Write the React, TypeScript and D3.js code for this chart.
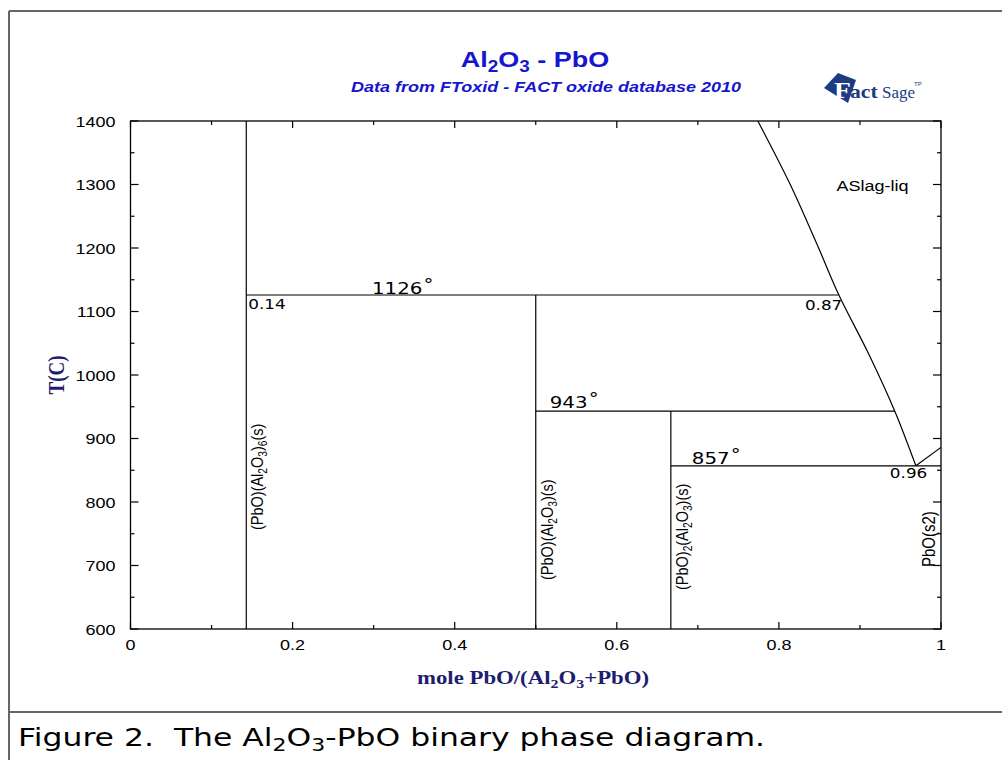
import React from "react";
import * as d3 from "d3";

const WIDTH = 1002;
const HEIGHT = 760;
const PLOT = { left: 130.5, right: 941, top: 121, bottom: 629 };
// the source picture is widened horizontally, so text is widened too
const STRETCH = 1.2;

const X_MAJOR = [0, 0.2, 0.4, 0.6, 0.8, 1];
const X_MAJOR_LABELS = ["0", "0.2", "0.4", "0.6", "0.8", "1"];
const X_MINOR = [0.1, 0.3, 0.5, 0.7, 0.9];
const Y_MAJOR = [600, 700, 800, 900, 1000, 1100, 1200, 1300, 1400];
const Y_MAJOR_LABELS = ["600", "700", "800", "900", "1000", "1100", "1200", "1300", "1400"];
const Y_MINOR = [650, 750, 850, 950, 1050, 1150, 1250, 1350];

// stoichiometric compounds: composition and upper temperature
const COMPOUND_X = [1 / 7, 0.5, 2 / 3];
const COMPOUND_TOP = [1400, 1126, 943];

// invariant lines
const INV_T = [1126, 943, 857];
const INV_FROM = [1 / 7, 0.5, 2 / 3];
const INV_TO = [0.874, 0.943, 1];
const INV_LABELS = ["1126", "943", "857"];

// liquidus (Al2O3-rich side down to the eutectic)
const LIQ_X = [0.774, 0.814, 0.849, 0.874, 0.912, 0.943, 0.969];
const LIQ_T = [1400, 1300, 1200, 1126, 1030, 943, 857];
// liquidus on the PbO side
const PBO_LIQ_X = [0.969, 1];
const PBO_LIQ_T = [857, 886];

const X_SCALE = d3.scaleLinear().domain([0, 1]).range([PLOT.left, PLOT.right]);
const Y_SCALE = d3.scaleLinear().domain([600, 1400]).range([PLOT.bottom, PLOT.top]);

const liqLine = d3
  .line<[number, number]>()
  .x((d) => X_SCALE(d[0]))
  .y((d) => Y_SCALE(d[1]))
  .curve(d3.curveCatmullRom);

const BLUE = "#1616cc";
const NAVY = "#1e1e6e";
const LOGO = "#1c3b82";
const SANS = "'Liberation Sans', Arial, sans-serif";
const SERIF = "'Liberation Serif', 'Times New Roman', serif";
const DEJAVU = "'DejaVu Sans', sans-serif";

// "_x" parts are subscripts
function Rich({ parts, size }: any) {
  const shift = size * 0.22;
  return parts.map((p: string, i: number) => {
    const prevSub = i > 0 && parts[i - 1].startsWith("_");
    if (p.startsWith("_"))
      return (
        <tspan key={i} fontSize={size * 0.7} dy={prevSub ? 0 : shift}>
          {p.slice(1)}
        </tspan>
      );
    return (
      <tspan key={i} dy={prevSub ? -shift : 0}>
        {p}
      </tspan>
    );
  });
}

function SText(props: any) {
  const { x, y, rotate, anchor, size, family, weight, fstyle, fill, sx, children } = props;
  const k = sx || STRETCH;
  const t = rotate
    ? `translate(${x},${y}) rotate(-90) scale(1,${k})`
    : `translate(${x},${y}) scale(${k},1)`;
  return (
    <text
      transform={t}
      textAnchor={anchor || "start"}
      fontSize={size}
      fontFamily={family || SANS}
      fontWeight={weight || "normal"}
      fontStyle={fstyle || "normal"}
      fill={fill || "#000"}
    >
      {children}
    </text>
  );
}

export default function App() {
  const liq: [number, number][] = LIQ_X.map((x, i) => [x, LIQ_T[i]]);
  const pboLiq: [number, number][] = PBO_LIQ_X.map((x, i) => [x, PBO_LIQ_T[i]]);
  const ln = { stroke: "#000", strokeWidth: 1.2, fill: "none" };

  return (
    <svg
      width={WIDTH}
      height={HEIGHT}
      style={{ position: "absolute", left: 0, top: 0, background: "#fff" }}
    >
      {/* frame */}
      <g stroke="#666" strokeWidth={2} fill="none">
        <line x1={9} y1={11} x2={WIDTH} y2={11} />
        <line x1={9} y1={11} x2={9} y2={HEIGHT} />
        <line x1={9} y1={712} x2={WIDTH} y2={712} />
      </g>

      {/* titles */}
      <SText x={535} y={67} anchor="middle" size={22.5} weight="bold" fill={BLUE}>
        <Rich parts={["Al", "_2", "O", "_3", " - PbO"]} size={22.5} />
      </SText>
      <SText x={546} y={92} anchor="middle" size={15} weight="bold" fstyle="italic" fill={BLUE}>
        Data from FToxid - FACT oxide database 2010
      </SText>

      {/* logo */}
      <g>
        <polygon points="824,88 838,73 856,80 848,103" fill={LOGO} />
        <SText x={834} y={98} size={23} family={SERIF} weight="bold" fill="#fff">
          F
        </SText>
        <SText x={850} y={98} size={18} family={SERIF} weight="bold" fill={LOGO}>
          act
        </SText>
        <text x={882} y={98} fontSize={17} fontFamily={SERIF} fill={LOGO}>
          Sage
        </text>
        <text x={914} y={86} fontSize={6} fontFamily={SANS} fill={LOGO}>
          TP
        </text>
      </g>

      {/* axes box */}
      <rect
        x={PLOT.left}
        y={PLOT.top}
        width={PLOT.right - PLOT.left}
        height={PLOT.bottom - PLOT.top}
        stroke="#000"
        strokeWidth={1.3}
        fill="none"
      />
      <g stroke="#000" strokeWidth={1.2}>
        {X_MAJOR.map((v) => (
          <g key={"xM" + v}>
            <line x1={X_SCALE(v)} x2={X_SCALE(v)} y1={PLOT.bottom} y2={PLOT.bottom - 7} />
            <line x1={X_SCALE(v)} x2={X_SCALE(v)} y1={PLOT.top} y2={PLOT.top + 7} />
          </g>
        ))}
        {X_MINOR.map((v) => (
          <g key={"xm" + v}>
            <line x1={X_SCALE(v)} x2={X_SCALE(v)} y1={PLOT.bottom} y2={PLOT.bottom - 4} />
            <line x1={X_SCALE(v)} x2={X_SCALE(v)} y1={PLOT.top} y2={PLOT.top + 4} />
          </g>
        ))}
        {Y_MAJOR.map((v) => (
          <g key={"yM" + v}>
            <line x1={PLOT.left} x2={PLOT.left + 8} y1={Y_SCALE(v)} y2={Y_SCALE(v)} />
            <line x1={PLOT.right} x2={PLOT.right - 8} y1={Y_SCALE(v)} y2={Y_SCALE(v)} />
          </g>
        ))}
        {Y_MINOR.map((v) => (
          <g key={"ym" + v}>
            <line x1={PLOT.left} x2={PLOT.left + 4} y1={Y_SCALE(v)} y2={Y_SCALE(v)} />
            <line x1={PLOT.right} x2={PLOT.right - 4} y1={Y_SCALE(v)} y2={Y_SCALE(v)} />
          </g>
        ))}
      </g>

      {/* tick labels */}
      {X_MAJOR.map((v, i) => (
        <SText key={"xl" + v} x={X_SCALE(v)} y={PLOT.bottom + 21} anchor="middle" size={15}>
          {X_MAJOR_LABELS[i]}
        </SText>
      ))}
      {Y_MAJOR.map((v, i) => (
        <SText key={"yl" + v} x={PLOT.left - 15} y={Y_SCALE(v) + 5.5} anchor="end" size={15}>
          {Y_MAJOR_LABELS[i]}
        </SText>
      ))}

      {/* axis titles */}
      <SText x={533} y={684} anchor="middle" size={19} family={SERIF} weight="bold" fill={NAVY}>
        <Rich parts={["mole PbO/(Al", "_2", "O", "_3", "+PbO)"]} size={19} />
      </SText>
      <SText x={64} y={375} rotate anchor="middle" size={19} family={SERIF} weight="bold" fill={NAVY}>
        T(C)
      </SText>

      {/* phase boundaries */}
      {COMPOUND_X.map((x, i) => (
        <line
          key={"c" + i}
          x1={X_SCALE(x)}
          x2={X_SCALE(x)}
          y1={Y_SCALE(600)}
          y2={Y_SCALE(COMPOUND_TOP[i])}
          {...ln}
        />
      ))}
      {INV_T.map((t, i) => (
        <line
          key={"inv" + i}
          x1={X_SCALE(INV_FROM[i])}
          x2={X_SCALE(INV_TO[i])}
          y1={Y_SCALE(t)}
          y2={Y_SCALE(t)}
          {...ln}
        />
      ))}
      <path d={liqLine(liq) || ""} {...ln} />
      <path d={liqLine(pboLiq) || ""} {...ln} />

      {/* invariant temperatures */}
      <SText x={X_SCALE(0.298)} y={Y_SCALE(INV_T[0]) - 1} size={16.5} family={DEJAVU}>
        {INV_LABELS[0]}
        <tspan dx={1} dy={-4}>°</tspan>
      </SText>
      <SText x={X_SCALE(INV_FROM[1]) + 14} y={Y_SCALE(INV_T[1]) - 3} size={16.5} family={DEJAVU}>
        {INV_LABELS[1]}
        <tspan dx={1} dy={-4}>°</tspan>
      </SText>
      <SText x={X_SCALE(INV_FROM[2]) + 21} y={Y_SCALE(INV_T[2]) - 2} size={16.5} family={DEJAVU}>
        {INV_LABELS[2]}
        <tspan dx={1} dy={-4}>°</tspan>
      </SText>

      {/* compositions at invariants */}
      <SText x={X_SCALE(INV_FROM[0]) + 2} y={Y_SCALE(INV_T[0]) + 14} size={14} family={DEJAVU}>
        0.14
      </SText>
      <SText x={X_SCALE(INV_TO[0]) - 34} y={Y_SCALE(INV_T[0]) + 15} size={14} family={DEJAVU}>
        0.87
      </SText>
      <SText x={X_SCALE(0.969) - 26} y={Y_SCALE(INV_T[2]) + 12.5} size={14} family={DEJAVU}>
        0.96
      </SText>

      {/* phase labels */}
      <SText x={X_SCALE(0.871)} y={Y_SCALE(1290)} size={15}>
        ASlag-liq
      </SText>
      <SText x={X_SCALE(COMPOUND_X[0]) + 17} y={530} rotate size={14.5}>
        <Rich parts={["(PbO)(Al", "_2", "O", "_3", ")", "_6", "(s)"]} size={14.5} />
      </SText>
      <SText x={X_SCALE(COMPOUND_X[1]) + 17} y={580} rotate size={14.5}>
        <Rich parts={["(PbO)(Al", "_2", "O", "_3", ")(s)"]} size={14.5} />
      </SText>
      <SText x={X_SCALE(COMPOUND_X[2]) + 17} y={590} rotate size={14.5}>
        <Rich parts={["(PbO)", "_2", "(Al", "_2", "O", "_3", ")(s)"]} size={14.5} />
      </SText>
      <SText x={X_SCALE(1) - 6} y={567} rotate size={15}>
        PbO(s2)
      </SText>

      {/* caption */}
      <SText x={18} y={746} size={24} family={DEJAVU} sx={1.31}>
        <Rich
          parts={["Figure 2.\u00a0 The Al", "_2", "O", "_3", "-PbO binary phase diagram."]}
          size={24}
        />
      </SText>
    </svg>
  );
}
